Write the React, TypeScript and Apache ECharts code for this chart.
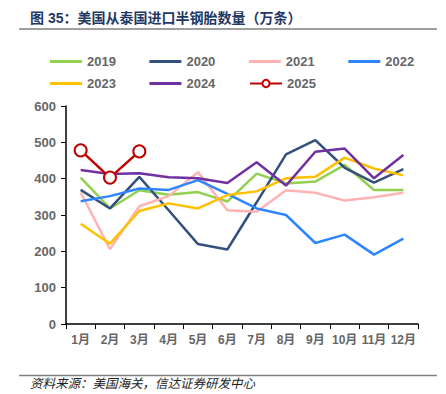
import React, { useEffect, useRef } from "react";
import * as echarts from "echarts";

const months = ["1月", "2月", "3月", "4月", "5月", "6月", "7月", "8月", "9月", "10月", "11月", "12月"];
const y2019 = [403, 318, 368, 356, 363, 337, 414, 387, 392, 438, 369, 369];
const y2020 = [369, 318, 405, 313, 220, 205, 335, 467, 506, 430, 389, 426];
const y2021 = [362, 206, 324, 352, 418, 313, 309, 368, 361, 340, 349, 361];
const y2022 = [338, 352, 373, 369, 396, 358, 318, 300, 223, 246, 191, 235];
const y2023 = [276, 221, 311, 332, 318, 355, 365, 401, 405, 458, 428, 409];
const y2024 = [424, 413, 415, 404, 401, 388, 445, 381, 474, 483, 401, 465];
const y2025 = [478, 403, 475];
const yTicks = [0, 100, 200, 300, 400, 500, 600];

const FONT = '"Liberation Sans", "Noto Sans CJK SC", sans-serif';

export default function App() {
  const ref = useRef<HTMLDivElement>(null);
  useEffect(() => {
    if (!ref.current) return;
    const chart = echarts.init(ref.current, null, { renderer: "svg" });
    const mk = (name: string, data: number[], color: string) => ({
      name,
      type: "line",
      data,
      symbol: "none",
      lineStyle: { color, width: 2.5 },
      itemStyle: { color },
      z: 2,
    });
    const legendText = { color: "#666666", fontSize: 13, fontWeight: "bold", fontFamily: FONT };
    const rectItems = (names: string[]) => names.map((n) => ({ name: n, icon: "rect" }));
    chart.setOption({
      animation: false,
      textStyle: { fontFamily: FONT },
      grid: { left: 66, right: 28, top: 106, bottom: 70, containLabel: false },
      legend: [
        {
          data: rectItems(["2019", "2020", "2021", "2022"]),
          left: 50,
          top: 55,
          padding: 0,
          itemWidth: 32,
          itemHeight: 3,
          itemGap: 33.5,
          textStyle: legendText,
        },
        {
          data: rectItems(["2023", "2024"]),
          left: 50,
          top: 77,
          padding: 0,
          itemWidth: 32,
          itemHeight: 3,
          itemGap: 33.5,
          textStyle: legendText,
        },
        {
          data: ["2025"],
          left: 249,
          top: 77,
          padding: 0,
          itemWidth: 32,
          itemHeight: 9,
          textStyle: legendText,
        },
      ],
      xAxis: {
        type: "category",
        data: months,
        boundaryGap: true,
        axisLine: { lineStyle: { color: "#000", width: 1.5 } },
        axisTick: { show: true, length: 5, inside: false, lineStyle: { color: "#000" } },
        axisLabel: { color: "#666666", fontSize: 12, fontWeight: "bold", margin: 10, interval: 0, fontFamily: FONT },
      },
      yAxis: {
        type: "value",
        min: yTicks[0],
        max: yTicks[yTicks.length - 1],
        interval: 100,
        axisLine: { show: true, lineStyle: { color: "#000", width: 1.5 } },
        axisTick: { show: true, length: 5, lineStyle: { color: "#000" } },
        splitLine: { show: false },
        axisLabel: { color: "#666666", fontSize: 13, fontWeight: "bold", margin: 10, fontFamily: FONT },
      },
      series: [
        mk("2019", y2019, "#92D050"),
        mk("2020", y2020, "#34507C"),
        mk("2021", y2021, "#FFB3B3"),
        mk("2022", y2022, "#2E86FF"),
        mk("2023", y2023, "#FFC000"),
        mk("2024", y2024, "#7030A0"),
        {
          name: "2025",
          type: "line",
          data: y2025,
          symbol: "emptyCircle",
          symbolSize: 12,
          lineStyle: { color: "#C00000", width: 2.5 },
          itemStyle: { color: "#C00000", borderColor: "#C00000", borderWidth: 1.5 },
          z: 3,
        },
      ],
      graphic: [
        {
          type: "text",
          left: 30,
          top: 11,
          style: {
            text: "图 35：美国从泰国进口半钢胎数量（万条）",
            fill: "#1F3864",
            font: `bold 14px ${FONT}`,
          },
        },
        {
          type: "line",
          shape: { x1: 19, y1: 29, x2: 437, y2: 29 },
          style: { stroke: "#7F7F7F", lineWidth: 1.5 },
        },
        {
          type: "line",
          shape: { x1: 19, y1: 375.5, x2: 437, y2: 375.5 },
          style: { stroke: "#7F7F7F", lineWidth: 1.5 },
        },
        {
          type: "text",
          left: 30,
          top: 378,
          style: {
            text: "资料来源：美国海关，信达证券研发中心",
            fill: "#222222",
            font: `italic 12.5px ${FONT}`,
          },
        },
      ],
    });
    return () => chart.dispose();
  }, []);
  return (
    <div
      ref={ref}
      style={{ position: "fixed", left: 0, top: 0, width: 446, height: 394, background: "#fff" }}
    />
  );
}
